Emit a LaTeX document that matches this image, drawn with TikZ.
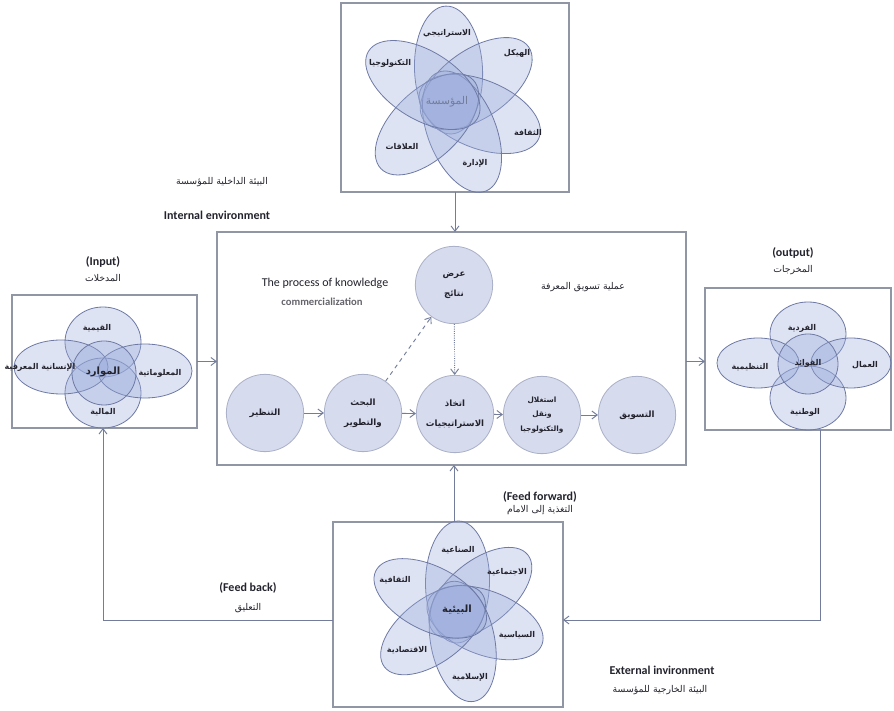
\documentclass[tikz,border=0pt]{standalone}
\usepackage{fontspec}
\setmainfont{Carlito}
\newfontfamily\arabicfont[Script=Arabic]{DejaVu Sans}
\TeXXeTstate=1
\usetikzlibrary{arrows.meta}
\newcommand\AR[1]{{\arabicfont\beginR #1\endR}}
\definecolor{boxc}{RGB}{145,150,165}
\definecolor{arrc}{RGB}{115,125,155}
\definecolor{circf}{RGB}{214,219,238}
\definecolor{circd}{RGB}{170,176,200}
\definecolor{petf}{RGB}{155,172,220}
\definecolor{petd}{RGB}{110,122,165}
\definecolor{txt}{RGB}{35,35,45}
\begin{document}
\begin{tikzpicture}[x=0.75pt,y=0.75pt,
  frame/.style={draw=boxc, line width=0.8pt, rectangle, inner sep=0pt, outer sep=0pt},
  flow/.style={draw=arrc, line width=0.7pt, -{Straight Barb[length=4pt,width=6pt]}},
  stage/.style={circle, draw=circd, fill=circf, line width=0.6pt, minimum size=58pt, inner sep=0pt, align=center, text=txt, font=\fontsize{6.5}{15}\selectfont\bfseries},
  petal/.style={draw=petd, fill=petf, fill opacity=0.33, line width=0.6pt},
  lab/.style={text=txt, font=\fontsize{6}{7}\selectfont\bfseries},
  hub/.style={text=txt, font=\fontsize{7.5}{9}\selectfont\bfseries},
  entxt/.style={text=txt, font=\fontsize{9}{11}\selectfont\bfseries},
  artxt/.style={text=txt, font=\fontsize{7}{9}\selectfont}]
\useasboundingbox (0,0) rectangle (894,711);
\fill[white] (0,0) rectangle (894,711);

% ---------- boxes ----------
\node[frame, minimum width=171pt, minimum height=141.75pt] (topbox) at (455,613.5) {};
\node[frame, minimum width=351.75pt, minimum height=174.75pt] (mainbox) at (451.5,362.5) {};
\node[frame, minimum width=138.75pt, minimum height=99.75pt] (leftbox) at (104.5,349.5) {};
\node[frame, minimum width=139.5pt, minimum height=106.5pt] (rightbox) at (798,352) {};
\node[frame, minimum width=172.5pt, minimum height=138.75pt] (botbox) at (448,96.5) {};

% ---------- top flower ----------
\foreach \a in {92.6,35,-22,-68,-136,148}
  \draw[petal, shift={(450,609)}, rotate=\a] (32,0) ellipse (64 and 34);
\node[lab] (t1) at (447,678) {\AR{الاستراتيجي}};
\node[lab] (t2) at (517,658) {\AR{الهيكل}};
\node[lab] (t3) at (528,579) {\AR{الثقافة}};
\node[lab] (t4) at (475,548) {\AR{الإدارة}};
\node[lab] (t5) at (402,564) {\AR{العلاقات}};
\node[lab] (t6) at (390,648) {\AR{التكنولوجيا}};
\node[text=arrc, font=\fontsize{8}{9}\selectfont] (thub) at (447,609) {\AR{المؤسسة}};

% ---------- bottom flower ----------
\foreach \a in {89,39,-21,-79,-143,153}
  \draw[petal, shift={(457,99)}, rotate=\a] (30,0) ellipse (61 and 32);
\node[lab] (b1) at (458,161) {\AR{الصناعية}};
\node[lab] (b2) at (507,139) {\AR{الاجتماعية}};
\node[lab] (b3) at (517,76) {\AR{السياسية}};
\node[lab] (b4) at (470,34) {\AR{الإسلامية}};
\node[lab] (b5) at (407,61) {\AR{الاقتصادية}};
\node[lab] (b6) at (395,131) {\AR{الثقافية}};
\node[hub] (bhub) at (457,101) {\AR{البيئية}};

% ---------- left venn ----------
\draw[petal] (103,369) ellipse (38 and 35);
\draw[petal] (103,318) ellipse (38 and 35);
\draw[petal] (61,344) ellipse (47 and 27);
\draw[petal] (145,340) ellipse (47 and 27);
\draw[petal] (104,338) circle (32);
\node[lab] (l1) at (97,383) {\AR{القيمية}};
\node[lab] (l2) at (40,344) {\AR{الإنسانية المعرفية}};
\node[lab] (l3) at (160,338) {\AR{المعلوماتية}};
\node[lab] (l4) at (103,299) {\AR{المالية}};
\node[hub] (lhub) at (103,339) {\AR{الموارد}};

% ---------- right venn ----------
\draw[petal] (808,377) ellipse (38 and 32);
\draw[petal] (808,313) ellipse (38 and 32);
\draw[petal] (758,348) ellipse (41 and 25);
\draw[petal] (851,348) ellipse (40 and 25);
\draw[petal] (808,347) circle (30);
\node[lab] (r1) at (802,383) {\AR{الفردية}};
\node[lab] (r2) at (750,344) {\AR{التنظيمية}};
\node[lab] (r3) at (865,346) {\AR{العمال}};
\node[lab] (r4) at (805,299) {\AR{الوطنية}};
\node[lab] (rhub) at (808,348) {\AR{الفوائد}};

% ---------- process circles ----------
\node[stage] (s1) at (265,298) {\AR{التنظير}};
\node[stage] (s2) at (363,298) {\AR{البحث}\\\AR{والتطوير}};
\node[stage] (s3) at (455,297) {\AR{اتخاذ}\\\AR{الاستراتيجيات}};
\node[stage, font=\fontsize{5.5}{11}\selectfont\bfseries] (s4) at (542,296) {\AR{استغلال}\\\AR{ونقل}\\\AR{والتكنولوجيا}};
\node[stage] (s5) at (637,296) {\AR{التسويق}};
\node[stage] (st) at (454,426) {\AR{عرض}\\\AR{نتائج}};

\draw[flow] (s1) -- (s2);
\draw[flow] (s2) -- (s3);
\draw[flow] (s3) -- (s4);
\draw[flow] (s4) -- (s5);
\draw[flow, dashed] (s2) -- (st);
\draw[flow, densely dotted] (st) -- (s3);

\node[text=txt, font=\fontsize{9}{11}\selectfont] (ptitle) at (325,428) {The process of knowledge};
\node[text=txt!70, font=\fontsize{8}{10}\selectfont\bfseries] (ptitle2) at (322,409) {commercialization};
\node[artxt] (ptitlear) at (583,424) {\AR{عملية تسويق المعرفة}};

% ---------- captions ----------
\node[artxt] (intar) at (222,529) {\AR{البيئة الداخلية للمؤسسة}};
\node[entxt] (inten) at (217,496) {Internal environment};
\node[entxt] (inpen) at (103,449) {(Input)};
\node[artxt] (inpar) at (103,433) {\AR{المدخلات}};
\node[entxt] (outen) at (793,458) {(output)};
\node[artxt] (outar) at (793,441) {\AR{المخرجات}};
\node[entxt] (ffen) at (540,214) {(Feed forward)};
\node[artxt] (ffar) at (540,201) {\AR{التغذية إلى الامام}};
\node[entxt] (fben) at (248,123) {(Feed back)};
\node[artxt] (fbar) at (248,103) {\AR{التعليق}};
\node[entxt] (exten) at (662,41) {External invironment};
\node[artxt] (extar) at (660,21) {\AR{البيئة الخارجية للمؤسسة}};

% ---------- box connectors ----------
\draw[flow] (topbox.south) -- (topbox.south |- mainbox.north);
\draw[flow] (leftbox.east) -- (leftbox.east -| mainbox.west);
\draw[flow] (mainbox.east |- leftbox.east) -- (rightbox.west |- leftbox.east);
\draw[flow] ([xshift=4.5pt]botbox.north) -- ([xshift=4.5pt]botbox.north |- mainbox.south);
\coordinate (fbr) at (820,91);
\coordinate (fbl) at (103,91);
\draw[flow] ([xshift=16.5pt]rightbox.south) -- (fbr) -- (fbr -| botbox.east);
\draw[flow] (fbl -| botbox.west) -- (fbl) -- (fbl |- leftbox.south);
\end{tikzpicture}
\end{document}
